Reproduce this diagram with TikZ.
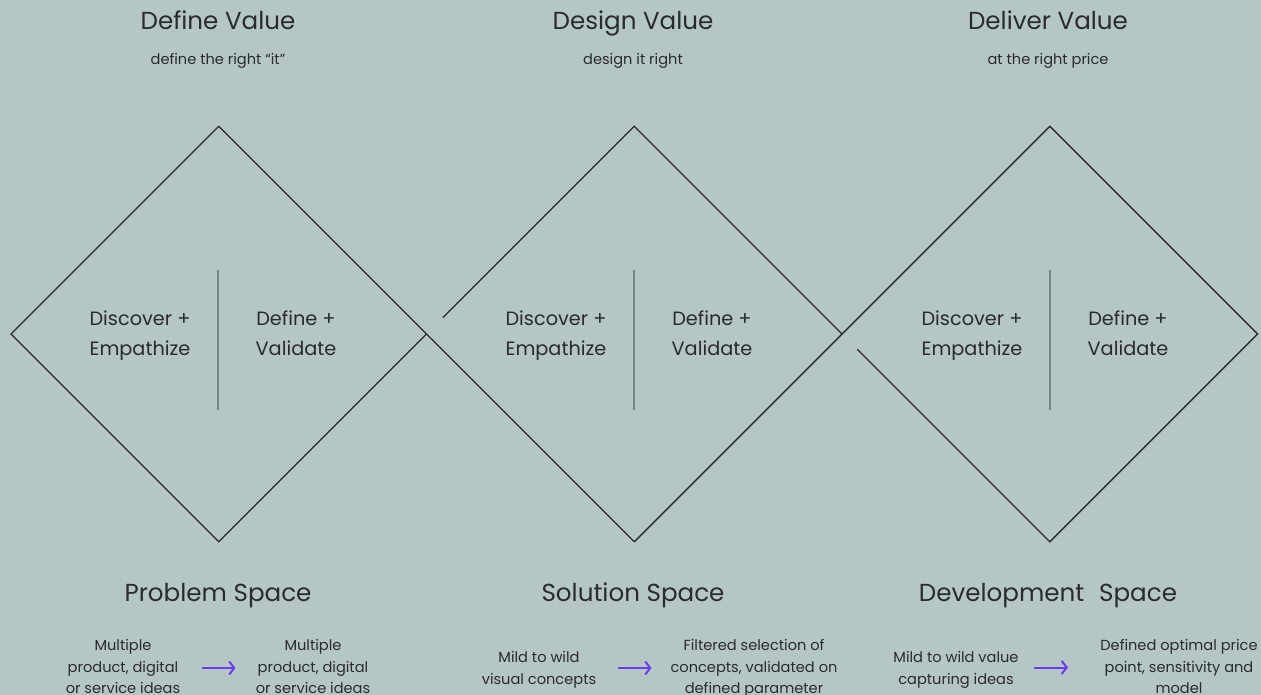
\documentclass[tikz,border=0pt]{standalone}
\usepackage{fontspec}
\setmainfont{Poppins}
\usetikzlibrary{calc,arrows.meta}
\definecolor{bg}{HTML}{B5C6C6}
\definecolor{ink}{HTML}{2A2A2F}
\definecolor{divider}{HTML}{728B87}
\definecolor{violet}{HTML}{6A3DE6}
\tikzset{
  edge/.style={draw=ink, line width=1.4pt, line cap=round},
  split/.style={draw=divider, line width=1.6pt},
  title/.style={text=ink, font=\fontsize{24.6}{29}\selectfont, anchor=base, inner sep=0pt},
  subtitle/.style={text=ink, font=\fontsize{14.6}{18}\selectfont, anchor=base, inner sep=0pt},
  phase/.style={text=ink, font=\fontsize{19.3}{30}\selectfont, align=center, anchor=center, inner sep=0pt,
    execute at begin node=\strut, execute at end node=\strut},
  note/.style={text=ink, font=\fontsize{14.6}{21.5}\selectfont, align=center, anchor=center, inner sep=0pt,
    execute at begin node=\strut, execute at end node=\strut},
  flow/.style={draw=violet, line width=2pt, -{Straight Barb[length=5pt,width=13pt]}},
}
\begin{document}
\begin{tikzpicture}[x=1pt,y=-1pt]
\fill[bg] (0,0) rectangle (1261,695);
\useasboundingbox (0,0) rectangle (1261,695);

% diamond corners
\coordinate (L1) at (11,334);
\coordinate (T1) at (218.75,126.25);
\coordinate (B1) at (218.75,541.75);
\coordinate (J1) at (426.5,334);
\coordinate (T2) at (634.25,126.25);
\coordinate (B2) at (634.25,541.75);
\coordinate (J2) at (842,334);
\coordinate (T3) at (1049.75,126.25);
\coordinate (B3) at (1049.75,541.75);
\coordinate (R3) at (1257.5,334);
% where the interrupted edges resume
\coordinate (G1) at ($(J1)!0.08!(T2)$);
\coordinate (G2) at ($(J2)!0.075!(B3)$);

% diamond outlines, interlaced at the joints
\draw[edge] (T1) -- (L1) -- (B1) -- (J1);
\draw[edge] (T1) -- (B2);
\draw[edge] (G1) -- (T2) -- (J2);
\draw[edge] (B2) -- (T3);
\draw[edge] (G2) -- (B3) -- (R3) -- (T3);

% dividers
\coordinate (S1a) at (218,270); \coordinate (S1b) at (218,410);
\coordinate (S2a) at (634,270); \coordinate (S2b) at (634,410);
\coordinate (S3a) at (1050,270); \coordinate (S3b) at (1050,410);
\draw[split] (S1a) -- (S1b);
\draw[split] (S2a) -- (S2b);
\draw[split] (S3a) -- (S3b);

% top titles
\node[title] (t1) at (218,30) {Define Value};
\node[title] (t2) at (633,30) {Design Value};
\node[title] (t3) at (1048,30) {Deliver Value};
\node[subtitle] (s1) at (218,65) {define the right “it”};
\node[subtitle] (s2) at (633,65) {design it right};
\node[subtitle] (s3) at (1048,65) {at the right price};

% phases inside the diamonds
\node[phase] (p1a) at (140,338) {Discover +\\Empathize};
\node[phase] (p1b) at (296,338) {Define +\\Validate};
\node[phase] (p2a) at (556,338) {Discover +\\Empathize};
\node[phase] (p2b) at (712,338) {Define +\\Validate};
\node[phase] (p3a) at (972,338) {Discover +\\Empathize};
\node[phase] (p3b) at (1128,338) {Define +\\Validate};

% bottom titles
\node[title] (b1) at (218,601) {Problem Space};
\node[title] (b2) at (633,601) {Solution Space};
\node[title] (b3) at (1048,601) {Development\hspace{0.6em}Space};

% outcomes
\node[note] (n1a) at (123,670) {Multiple\\product, digital\\or service ideas};
\node[note] (n1b) at (313,670) {Multiple\\product, digital\\or service ideas};
\node[note] (n2a) at (539,671) {Mild to wild\\visual concepts};
\node[note] (n2b) at (754,670) {Filtered selection of\\concepts, validated on\\defined parameter};
\node[note] (n3a) at (956,671) {Mild to wild value\\capturing ideas};
\node[note] (n3b) at (1179,670) {Defined optimal price\\point, sensitivity and\\model};

% transitions between outcomes
\coordinate (a1s) at (202,668); \coordinate (a1e) at (235.5,668);
\coordinate (a2s) at (618,668); \coordinate (a2e) at (651.5,668);
\coordinate (a3s) at (1034,667.5); \coordinate (a3e) at (1068,667.5);
\draw[flow] (a1s) -- (a1e);
\draw[flow] (a2s) -- (a2e);
\draw[flow] (a3s) -- (a3e);
\end{tikzpicture}
\end{document}
